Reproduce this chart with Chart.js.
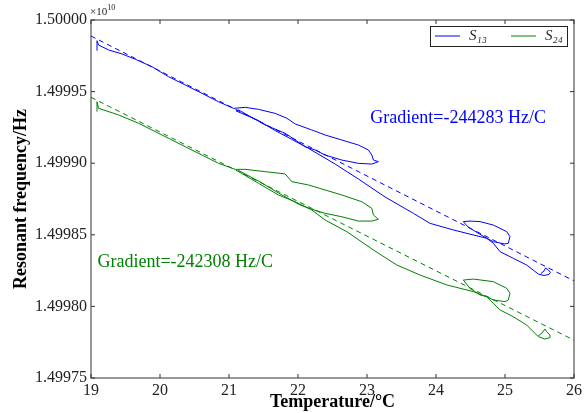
<!DOCTYPE html>
<html>
<head>
<meta charset="utf-8">
<script src="https://cdn.jsdelivr.net/npm/chart.js@4.4.1/dist/chart.umd.min.js"></script>
<style>
  body { margin: 0; background: #fff; }
  #wrap { width: 587px; height: 413px; position: relative; }
</style>
</head>
<body>
<div id="wrap"><canvas id="chart"></canvas></div>
<script>
// S13 trace: temperature (C) and resonant frequency (x1e10 Hz)
const s13T = [19.087, 19.087, 19.110, 19.255, 19.449, 19.642, 19.883, 20.124, 20.366, 20.608, 20.848, 21.065,
  21.235, 21.427, 21.669, 21.838, 21.959, 22.201, 22.393, 22.635, 22.875, 23.020, 23.070, 23.093, 23.165,
  23.070, 22.875, 22.635, 22.393, 22.248, 22.104,
  21.814, 21.524, 21.138,
  21.104, 21.427, 21.669, 21.911, 22.151,
  22.538, 22.875, 23.262, 23.672, 23.914, 24.251, 24.638, 24.735,
  24.580, 24.464, 24.396, 24.493, 24.638, 24.831, 25.025, 25.072, 25.048, 25.000, 24.831, 24.735,
  24.831, 24.928, 25.120, 25.314, 25.482, 25.565, 25.637, 25.659, 25.630, 25.587, 25.565, 25.521];
const s13F = [1.4999786, 1.4999855, 1.4999825, 1.4999791, 1.4999763, 1.4999726, 1.4999674, 1.4999604, 1.4999546, 1.4999488, 1.4999429, 1.4999383,
  1.4999390, 1.4999376, 1.4999348, 1.4999314, 1.4999274, 1.4999232, 1.4999197, 1.4999162, 1.4999127, 1.4999092, 1.4999057, 1.4999022, 1.4999011,
  1.4998994, 1.4998999, 1.4999022, 1.4999057, 1.4999092, 1.4999115,
  1.4999209, 1.4999267, 1.4999372,
  1.4999365, 1.4999298, 1.4999228, 1.4999166, 1.4999104,
  1.4998994, 1.4998890, 1.4998764, 1.4998650, 1.4998580, 1.4998534, 1.4998487, 1.4998476,
  1.4998520, 1.4998555, 1.4998592, 1.4998596, 1.4998592, 1.4998568, 1.4998522, 1.4998487, 1.4998441, 1.4998436, 1.4998452, 1.4998476,
  1.4998441, 1.4998382, 1.4998336, 1.4998289, 1.4998226, 1.4998216, 1.4998223, 1.4998237, 1.4998254, 1.4998268, 1.4998247, 1.4998230];

// S24 trace
const s24T = [19.087, 19.087, 19.110, 19.400, 19.689, 19.883, 20.124, 20.366, 20.608, 20.848, 21.090,
  21.235, 21.524, 21.814, 21.911, 22.151, 22.393, 22.635, 22.925, 23.070, 23.093, 23.165,
  23.070, 22.875, 22.635, 22.393, 22.201, 22.031,
  21.741, 21.452, 21.138,
  21.162, 21.427, 21.717, 21.959, 22.201,
  22.393, 22.707, 23.093, 23.432, 23.769, 24.156, 24.541, 24.735,
  24.638, 24.493, 24.396, 24.541, 24.831, 25.025, 25.072, 25.048, 25.000, 24.831, 24.735,
  24.831, 24.928, 25.120, 25.314, 25.482, 25.579, 25.652, 25.652, 25.604, 25.579, 25.532, 25.482];
const s24F = [1.4999360, 1.4999429, 1.4999383, 1.4999337, 1.4999279, 1.4999232, 1.4999174, 1.4999115, 1.4999057, 1.4998999, 1.4998957,
  1.4998957, 1.4998941, 1.4998925, 1.4998871, 1.4998848, 1.4998813, 1.4998778, 1.4998731, 1.4998685, 1.4998638, 1.4998608,
  1.4998596, 1.4998596, 1.4998626, 1.4998650, 1.4998678, 1.4998708,
  1.4998785, 1.4998869, 1.4998949,
  1.4998935, 1.4998860, 1.4998778, 1.4998731, 1.4998673,
  1.4998603, 1.4998522, 1.4998394, 1.4998289, 1.4998219, 1.4998150, 1.4998103, 1.4998068,
  1.4998080, 1.4998126, 1.4998184, 1.4998191, 1.4998173, 1.4998126, 1.4998092, 1.4998045, 1.4998033, 1.4998045, 1.4998068,
  1.4998022, 1.4997975, 1.4997928, 1.4997870, 1.4997789, 1.4997772, 1.4997782, 1.4997800, 1.4997823, 1.4997842, 1.4997812, 1.4997795];

// linear fits (dashed)
const fitT = [19, 26];
const fit13 = [1.4999888, 1.4998178];
const fit24 = [1.4999460, 1.4997764];

const xRange = [19, 26];
const yRange = [1.49975, 1.50000];
const seriesNames = ['S\u2081\u2083', 'S\u2082\u2084'];
const gradientTexts = ['Gradient=-244283 Hz/C', 'Gradient=-242308 Hz/C'];

const BLUE = '#0000ff';
const GREEN = '#008000';
const SERIF = '"Liberation Serif", "DejaVu Serif", serif';

const pts = (xs, ys) => xs.map((x, i) => ({ x: x, y: ys[i] }));

// inward ticks on all four sides plus the frame
const frameTicks = {
  id: 'frameTicks',
  afterDatasetsDraw(chart) {
    const { ctx, chartArea: a, scales } = chart;
    ctx.save();
    ctx.strokeStyle = '#333';
    ctx.lineWidth = 1;
    ctx.strokeRect(a.left, a.top, a.right - a.left, a.bottom - a.top);
    const len = 4;
    ctx.beginPath();
    scales.x.ticks.forEach(t => {
      const px = scales.x.getPixelForValue(t.value);
      ctx.moveTo(px, a.bottom); ctx.lineTo(px, a.bottom - len);
      ctx.moveTo(px, a.top); ctx.lineTo(px, a.top + len);
    });
    scales.y.ticks.forEach(t => {
      const py = scales.y.getPixelForValue(t.value);
      ctx.moveTo(a.left, py); ctx.lineTo(a.left + len, py);
      ctx.moveTo(a.right, py); ctx.lineTo(a.right - len, py);
    });
    ctx.stroke();
    ctx.restore();
  }
};

// legend box, gradient notes and the x10^10 offset label
const extras = {
  id: 'extras',
  afterDraw(chart) {
    const { ctx, chartArea: a, scales } = chart;
    const ds = chart.data.datasets;
    ctx.save();

    // offset label
    ctx.fillStyle = '#222';
    ctx.textBaseline = 'alphabetic';
    ctx.textAlign = 'left';
    ctx.font = '11px ' + SERIF;
    ctx.fillText('\u00d710', a.left - 1, a.top - 5);
    const w = ctx.measureText('\u00d710').width;
    ctx.font = '8px ' + SERIF;
    ctx.fillText('10', a.left - 1 + w, a.top - 10);

    // legend
    const bw = 137, bh = 20;
    const bx = a.right - 7 - bw, by = a.top + 6;
    ctx.fillStyle = '#fff';
    ctx.fillRect(bx, by, bw, bh);
    ctx.strokeStyle = '#222';
    ctx.lineWidth = 1;
    ctx.strokeRect(bx + 0.5, by + 0.5, bw, bh);
    [0, 1].forEach(i => {
      const lx = bx + 5 + i * 76;
      const ly = by + bh / 2;
      ctx.strokeStyle = ds[i].borderColor;
      ctx.beginPath();
      ctx.moveTo(lx, ly); ctx.lineTo(lx + 25, ly);
      ctx.stroke();
      ctx.fillStyle = '#222';
      ctx.textBaseline = 'middle';
      ctx.font = 'italic 15px ' + SERIF;
      ctx.fillText(seriesNames[i], lx + 34, ly);
    });

    // gradient notes
    ctx.font = '18px ' + SERIF;
    ctx.textAlign = 'center';
    ctx.textBaseline = 'middle';
    ctx.fillStyle = BLUE;
    ctx.fillText(gradientTexts[0], scales.x.getPixelForValue(24.32), scales.y.getPixelForValue(1.4999316));
    ctx.fillStyle = GREEN;
    ctx.fillText(gradientTexts[1], scales.x.getPixelForValue(20.366), scales.y.getPixelForValue(1.4998310));
    ctx.restore();
  }
};

new Chart(document.getElementById('chart'), {
  type: 'scatter',
  data: {
    datasets: [
      { label: seriesNames[0], data: pts(s13T, s13F), showLine: true, borderColor: BLUE, borderWidth: 1, pointRadius: 0 },
      { label: seriesNames[1], data: pts(s24T, s24F), showLine: true, borderColor: GREEN, borderWidth: 1, pointRadius: 0 },
      { label: 'fit13', data: pts(fitT, fit13), showLine: true, borderColor: BLUE, borderWidth: 1, borderDash: [5, 4], pointRadius: 0 },
      { label: 'fit24', data: pts(fitT, fit24), showLine: true, borderColor: GREEN, borderWidth: 1, borderDash: [5, 4], pointRadius: 0 }
    ]
  },
  options: {
    responsive: true,
    maintainAspectRatio: false,
    animation: false,
    layout: { padding: { left: 0, right: 13, top: 20, bottom: 0 } },
    plugins: { legend: { display: false }, tooltip: { enabled: false } },
    scales: {
      x: {
        type: 'linear',
        min: xRange[0], max: xRange[1],
        grid: { display: false, drawTicks: false },
        border: { display: false },
        ticks: { stepSize: 1, color: '#222', padding: 3, font: { family: SERIF, size: 16 } },
        title: { display: true, text: 'Temperature/\u00b0C', color: '#000', padding: { top: 0, bottom: 0 },
                 font: { family: SERIF, size: 18, weight: 'bold' } },
        afterFit: s => { s.height = 35; }
      },
      y: {
        min: yRange[0], max: yRange[1],
        grid: { display: false, drawTicks: false },
        border: { display: false },
        ticks: { stepSize: 0.00005, color: '#222', padding: 4, font: { family: SERIF, size: 16 },
                 callback: v => v.toFixed(5) },
        title: { display: true, text: 'Resonant frequency/Hz', color: '#000', padding: { top: 11, bottom: 0 },
                 font: { family: SERIF, size: 18, weight: 'bold' } },
        afterFit: s => { s.width = 91; }
      }
    }
  },
  plugins: [frameTicks, extras]
});
</script>
</body>
</html>
